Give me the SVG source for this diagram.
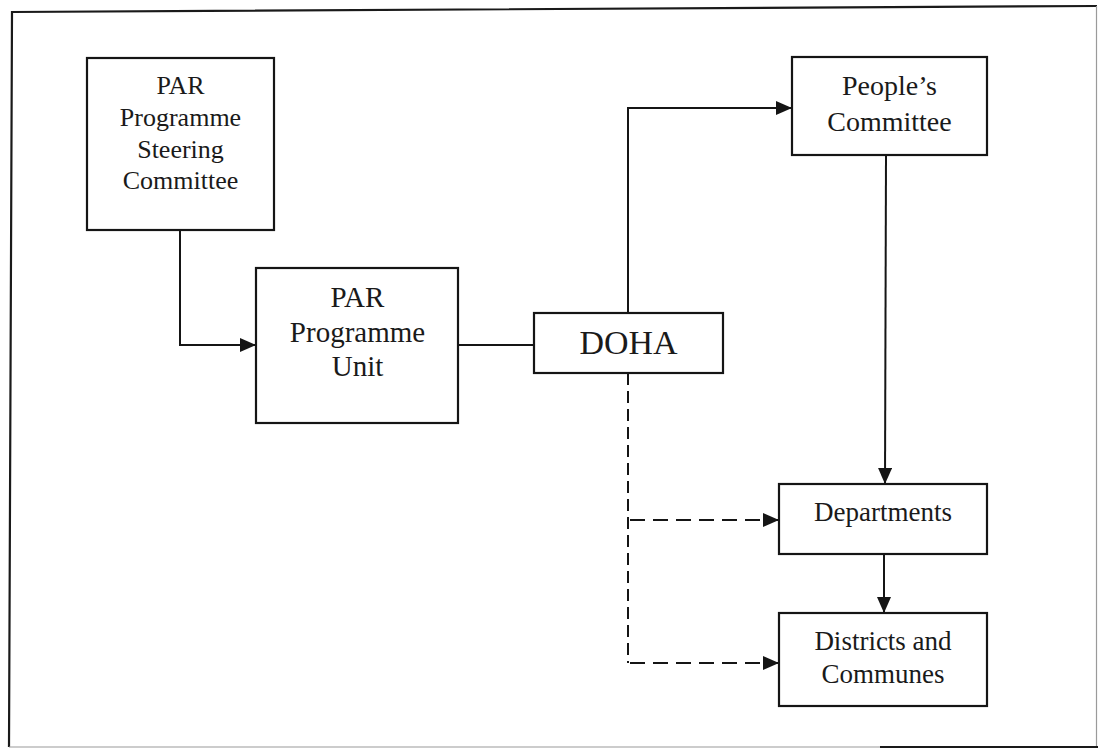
<svg xmlns="http://www.w3.org/2000/svg" width="1098" height="749" viewBox="0 0 1098 749">
<style>
  .box{fill:#fff;stroke:#151515;stroke-width:2.2}
  .lbl{font-family:"Liberation Serif","Times New Roman",serif;fill:#1a1a1a;text-anchor:middle}
  .ln{fill:none;stroke:#151515;stroke-width:2}
  .dash{fill:none;stroke:#151515;stroke-width:2;stroke-dasharray:15 8}
  .vdash{fill:none;stroke:#151515;stroke-width:2;stroke-dasharray:12 6}
  .frame{fill:none;stroke:#1a1a1a;stroke-width:2.2}
  .frame-faint{fill:none;stroke:#9a9a9a;stroke-width:1.2}
</style>
<defs>
  <marker id="ah" markerUnits="userSpaceOnUse" markerWidth="17" markerHeight="15" refX="16" refY="7" orient="auto">
    <path d="M0,0 L16,7 L0,14 z" fill="#151515"/>
  </marker>
</defs>
<rect width="1098" height="749" fill="#fff"/>
<g id="frame">
  <path class="frame" d="M9,747 L12,12 L1097,6"/>
  <path class="frame-faint" d="M1096.5,6 L1096.5,747"/>
  <path class="frame-faint" d="M9,747 L880,747"/>
  <path class="frame" d="M880,747 L1098,747" style="stroke-width:1.8"/>
</g>
<g id="connectors">
  <path class="ln" d="M180,230 L180,345 L256,345" marker-end="url(#ah)"/>
  <path class="ln" d="M458,345 L534,345"/>
  <path class="ln" d="M628,313 L628,108 L792,108" marker-end="url(#ah)"/>
  <path class="ln" d="M886,155 L885,484" marker-end="url(#ah)"/>
  <path class="ln" d="M884,554 L884,613" marker-end="url(#ah)"/>
  <path class="vdash" d="M628,373 L628,663"/>
  <path class="dash" d="M630,520 L779,520" marker-end="url(#ah)"/>
  <path class="dash" d="M630,663 L779,663" marker-end="url(#ah)"/>
</g>
<g id="steering-committee">
  <rect class="box" x="87" y="58" width="187" height="172"/>
  <text class="lbl" font-size="26" x="180.5" y="94">PAR</text>
  <text class="lbl" font-size="26" x="180.5" y="126">Programme</text>
  <text class="lbl" font-size="26" x="180.5" y="158">Steering</text>
  <text class="lbl" font-size="26" x="180.5" y="189">Committee</text>
</g>
<g id="programme-unit">
  <rect class="box" x="256" y="268" width="202" height="155"/>
  <text class="lbl" font-size="29" x="357.5" y="307">PAR</text>
  <text class="lbl" font-size="29" x="357.5" y="342">Programme</text>
  <text class="lbl" font-size="29" x="357.5" y="376">Unit</text>
</g>
<g id="doha">
  <rect class="box" x="534" y="313" width="189" height="60"/>
  <text class="lbl" font-size="34" x="628.5" y="354">DOHA</text>
</g>
<g id="peoples-committee">
  <rect class="box" x="792" y="57" width="195" height="98"/>
  <text class="lbl" font-size="28" x="889.5" y="95">People’s</text>
  <text class="lbl" font-size="28" x="889.5" y="131">Committee</text>
</g>
<g id="departments">
  <rect class="box" x="779" y="484" width="208" height="70"/>
  <text class="lbl" font-size="27" x="883" y="521">Departments</text>
</g>
<g id="districts-communes">
  <rect class="box" x="779" y="613" width="208" height="93"/>
  <text class="lbl" font-size="27" x="883" y="650">Districts and</text>
  <text class="lbl" font-size="27" x="883" y="683">Communes</text>
</g>
</svg>
